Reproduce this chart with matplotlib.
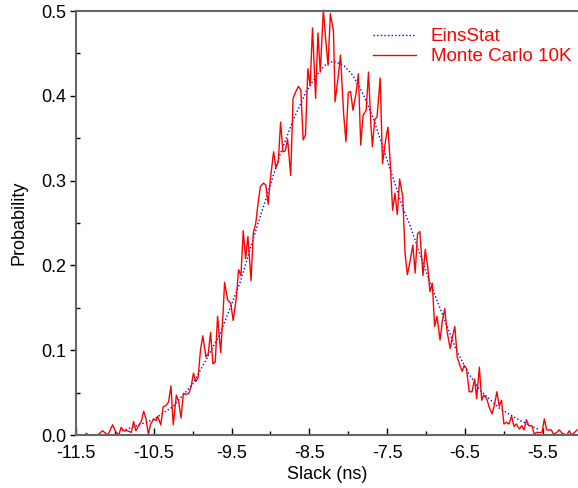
import matplotlib
matplotlib.use("Agg")
import matplotlib.pyplot as plt
from matplotlib.ticker import FixedLocator

plt.rcParams['font.family'] = ['Liberation Sans', 'DejaVu Sans']

# EinsStat (analytical) curve
eins_x = [-10.91, -10.75, -10.51, -10.26, -10.00, -9.85, -9.65, -9.39, -9.22, -9.05,
          -8.88, -8.71, -8.54, -8.40, -8.30, -8.19, -8.06, -7.94, -7.81, -7.68,
          -7.55, -7.42, -7.30, -7.21, -6.95, -6.78, -6.61, -6.45, -6.31, -6.05,
          -5.79, -5.54]
eins_y = [0.005, 0.010, 0.018, 0.033, 0.060, 0.085, 0.119, 0.180, 0.232, 0.281,
          0.330, 0.371, 0.405, 0.425, 0.436, 0.441, 0.436, 0.424, 0.402, 0.374,
          0.338, 0.302, 0.268, 0.248, 0.180, 0.140, 0.100, 0.072, 0.053, 0.031,
          0.017, 0.006]

# Monte Carlo 10K histogram
mc_x = [-11.37, -11.33, -11.28, -11.22, -11.16, -11.09, -11.03, -10.99, -10.95, -10.92,
        -10.89, -10.84, -10.79, -10.76, -10.73, -10.69, -10.66, -10.63, -10.60, -10.57,
        -10.54, -10.50, -10.47, -10.45, -10.41, -10.38, -10.34, -10.31, -10.28, -10.25,
        -10.21, -10.18, -10.15, -10.12, -10.09, -10.05, -10.02, -9.99, -9.96, -9.93,
        -9.90, -9.87, -9.83, -9.80, -9.77, -9.74, -9.71, -9.68, -9.64, -9.61,
        -9.59, -9.55, -9.51, -9.48, -9.44, -9.41, -9.38, -9.35, -9.32, -9.29,
        -9.25, -9.22, -9.19, -9.16, -9.13, -9.09, -9.06, -9.03, -9.00, -8.96,
        -8.93, -8.90, -8.87, -8.84, -8.81, -8.78, -8.74, -8.71, -8.68, -8.64,
        -8.61, -8.58, -8.55, -8.52, -8.49, -8.46, -8.42, -8.39, -8.36, -8.32,
        -8.29, -8.26, -8.23, -8.19, -8.17, -8.13, -8.10, -8.06, -8.03, -8.00,
        -7.97, -7.94, -7.90, -7.87, -7.84, -7.81, -7.77, -7.74, -7.71, -7.69,
        -7.66, -7.63, -7.59, -7.56, -7.52, -7.49, -7.46, -7.43, -7.40, -7.37,
        -7.34, -7.30, -7.27, -7.24, -7.21, -7.17, -7.14, -7.11, -7.08, -7.04,
        -7.01, -6.98, -6.95, -6.92, -6.89, -6.86, -6.82, -6.79, -6.76, -6.73,
        -6.69, -6.66, -6.63, -6.60, -6.565, -6.535, -6.51, -6.48, -6.445, -6.41,
        -6.375, -6.35, -6.315, -6.285, -6.26, -6.22, -6.19, -6.15, -6.12, -6.09,
        -6.06, -6.03, -6.00, -5.965, -5.935, -5.90, -5.87, -5.84, -5.80, -5.77,
        -5.74, -5.71, -5.68, -5.64, -5.61, -5.58, -5.545, -5.51, -5.48, -5.45,
        -5.42, -5.39, -5.36, -5.32, -5.29, -5.25, -5.22, -5.19, -5.16, -5.13,
        -5.09, -5.06]
mc_y = [0.002, 0.000, 0.000, 0.000, 0.005, 0.000, 0.012, 0.004, 0.000, 0.009,
        0.005, 0.005, 0.003, 0.016, 0.005, 0.012, 0.016, 0.028, 0.019, 0.001,
        0.013, 0.019, 0.017, 0.022, 0.012, 0.033, 0.035, 0.039, 0.058, 0.012,
        0.047, 0.039, 0.020, 0.049, 0.048, 0.049, 0.057, 0.073, 0.063, 0.068,
        0.100, 0.117, 0.092, 0.096, 0.121, 0.084, 0.086, 0.140, 0.097, 0.143,
        0.180, 0.159, 0.155, 0.135, 0.161, 0.195, 0.188, 0.241, 0.208, 0.234,
        0.182, 0.239, 0.249, 0.273, 0.293, 0.297, 0.295, 0.272, 0.303, 0.334,
        0.315, 0.322, 0.369, 0.334, 0.335, 0.349, 0.306, 0.397, 0.404, 0.411,
        0.407, 0.348, 0.354, 0.432, 0.412, 0.480, 0.397, 0.474, 0.428, 0.501,
        0.466, 0.436, 0.497, 0.476, 0.393, 0.422, 0.448, 0.379, 0.346, 0.404,
        0.405, 0.383, 0.403, 0.426, 0.342, 0.377, 0.383, 0.428, 0.367, 0.340,
        0.372, 0.375, 0.421, 0.320, 0.348, 0.363, 0.320, 0.265, 0.285, 0.260,
        0.302, 0.281, 0.214, 0.189, 0.203, 0.224, 0.191, 0.237, 0.240, 0.188,
        0.219, 0.199, 0.169, 0.179, 0.128, 0.140, 0.112, 0.135, 0.149, 0.122,
        0.102, 0.116, 0.128, 0.092, 0.082, 0.075, 0.082, 0.078, 0.051, 0.051,
        0.066, 0.043, 0.080, 0.041, 0.047, 0.043, 0.033, 0.025, 0.036, 0.051,
        0.034, 0.041, 0.013, 0.015, 0.013, 0.022, 0.010, 0.013, 0.007, 0.011,
        0.006, 0.018, 0.011, 0.011, 0.001, 0.003, 0.003, 0.003, 0.019, 0.006,
        0.006, 0.006, 0.001, 0.003, 0.006, 0.002, 0.001, 0.000, 0.005, 0.000,
        0.003, 0.006]

x_ticks = [-11.5, -10.5, -9.5, -8.5, -7.5, -6.5, -5.5]
x_labels = ['-11.5', '-10.5', '-9.5', '-8.5', '-7.5', '-6.5', '-5.5']
y_ticks = [0.0, 0.1, 0.2, 0.3, 0.4, 0.5]
y_labels = ['0.0', '0.1', '0.2', '0.3', '0.4', '0.5']

fig = plt.figure(figsize=(5.78, 4.88), dpi=100)
ax = fig.add_axes([76/578, 1 - 435/488, 1 - 76/578, (435 - 11)/488])

ax.plot(eins_x, eins_y, color='#0000ff', lw=1.0, linestyle=(0, (1, 1.6)), label='EinsStat')
ax.plot(mc_x, mc_y, color='#ff0000', lw=1.0, label='Monte Carlo 10K', clip_on=False)

ax.set_xlim(-11.5, -5.047)
ax.set_ylim(0, 0.5)

ax.set_xticks(x_ticks)
ax.set_xticklabels(x_labels)
ax.set_yticks(y_ticks)
ax.set_yticklabels(y_labels)
ax.xaxis.set_minor_locator(FixedLocator([-11, -10, -9, -8, -7, -6, -5]))
ax.yaxis.set_minor_locator(FixedLocator([0.05, 0.15, 0.25, 0.35, 0.45]))

ax.tick_params(axis='x', which='major', direction='in', length=5, width=1, labelsize=13, pad=7)
ax.tick_params(axis='x', which='minor', direction='in', length=3, width=1)
ax.tick_params(axis='y', which='major', direction='out', length=4, width=1, labelsize=13, pad=3)
ax.tick_params(axis='y', which='minor', direction='in', length=3, width=1)

for s in ['left', 'top', 'bottom']:
    ax.spines[s].set_color('#666666')
    ax.spines[s].set_linewidth(1.5)
ax.spines['right'].set_visible(False)

ax.set_xlabel('Slack (ns)', fontsize=13, labelpad=3)
ax.set_ylabel('Probability', fontsize=13, labelpad=10)

leg = ax.legend(loc='upper right', frameon=False, fontsize=13.5, handlelength=2.3,
                handletextpad=0.8, borderaxespad=0.3, labelspacing=0.15,
                labelcolor='#ff0000', bbox_to_anchor=(1.013, 0.99))

fig.savefig('out.png', dpi=100)
